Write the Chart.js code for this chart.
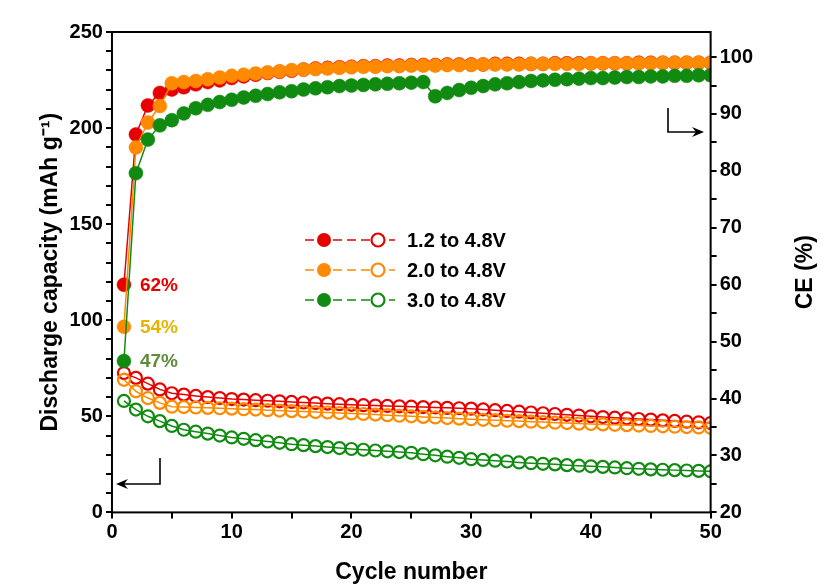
<!DOCTYPE html>
<html>
<head>
<meta charset="utf-8">
<script src="https://cdn.jsdelivr.net/npm/chart.js@4"></script>
<style>
  body { margin: 0; background: #fff; }
  #wrap { width: 821px; height: 586px; }
</style>
</head>
<body>
<div id="wrap"><canvas id="ceChart"></canvas></div>
<script>
"use strict";

// cycle numbers 1..50
const cycles = [];
for (let i = 1; i <= 50; i++) cycles.push(i);

const seriesNames = ["1.2 to 4.8V", "2.0 to 4.8V", "3.0 to 4.8V"];
const seriesColors = ["#e60000", "#ff8a00", "#118a11"];
const firstCE = ["62%", "54%", "47%"];
const firstCEColors = ["#e60000", "#e8b400", "#5e8c3c"];

// coulombic efficiency (%), right axis
const ceRed = [60, 86.4, 91.5, 93.7, 94.3, 94.7, 95.2, 95.6, 95.9, 96.3,
  96.6, 96.9, 97.2, 97.4, 97.6, 97.8, 98.0, 98.1, 98.2, 98.3,
  98.4, 98.4, 98.5, 98.5, 98.6, 98.6, 98.6, 98.7, 98.7, 98.7,
  98.7, 98.8, 98.8, 98.8, 98.8, 98.8, 98.9, 98.9, 98.9, 98.9,
  98.9, 98.9, 98.9, 99.0, 99.0, 99.0, 99.0, 99.0, 99.0, 99.0];
const ceOrange = [52.6, 84.1, 88.5, 91.4, 95.4, 95.6, 95.8, 96.1, 96.4, 96.7,
  96.9, 97.1, 97.3, 97.5, 97.7, 97.8, 97.9, 98.0, 98.1, 98.2,
  98.3, 98.3, 98.4, 98.4, 98.5, 98.5, 98.5, 98.6, 98.6, 98.6,
  98.7, 98.7, 98.7, 98.7, 98.8, 98.8, 98.8, 98.8, 98.8, 98.9,
  98.9, 98.9, 98.9, 98.9, 98.9, 99.0, 99.0, 99.0, 99.0, 99.0];
const ceGreen = [46.6, 79.6, 85.5, 88.0, 88.9, 90.1, 91.0, 91.6, 92.1, 92.5,
  92.9, 93.2, 93.5, 93.8, 94.0, 94.3, 94.5, 94.7, 94.9, 95.0,
  95.1, 95.2, 95.3, 95.4, 95.5, 95.6, 93.1, 93.7, 94.2, 94.6,
  94.9, 95.2, 95.4, 95.6, 95.8, 95.9, 96.0, 96.1, 96.2, 96.3,
  96.3, 96.4, 96.5, 96.5, 96.6, 96.6, 96.7, 96.7, 96.8, 96.8];

// discharge capacity (mAh/g), left axis
const capRed = [72.5, 70, 67, 64, 62, 61.3, 60.6, 60, 59.5, 59,
  58.7, 58.4, 58.1, 57.8, 57.5, 57.2, 56.9, 56.6, 56.3, 56,
  55.8, 55.6, 55.4, 55.2, 55, 54.8, 54.6, 54.4, 54.2, 54,
  53.6, 53.2, 52.8, 52.4, 52, 51.6, 51.2, 50.8, 50.4, 50,
  49.6, 49.3, 49, 48.6, 48.3, 47.9, 47.6, 47.2, 46.9, 46.5];
const capOrange = [69, 63, 59.5, 57, 55, 54.8, 54.6, 54.4, 54.2, 54,
  53.7, 53.5, 53.2, 53, 52.7, 52.5, 52.2, 52, 51.7, 51.5,
  51.2, 50.9, 50.6, 50.3, 50, 49.7, 49.4, 49.1, 48.8, 48.5,
  48.2, 48, 47.7, 47.5, 47.2, 47, 46.7, 46.5, 46.2, 46,
  45.8, 45.6, 45.4, 45.2, 45, 44.8, 44.6, 44.4, 44.2, 44];
const capGreen = [58, 53.5, 50, 47.5, 45, 43, 42, 41, 40, 39,
  38.3, 37.6, 36.9, 36.2, 35.5, 35, 34.5, 34, 33.5, 33,
  32.6, 32.2, 31.8, 31.4, 31, 30.3, 29.7, 29, 28.4, 27.7,
  27.3, 26.9, 26.5, 26, 25.6, 25.3, 25, 24.6, 24.3, 24,
  23.7, 23.4, 23, 22.7, 22.4, 22.2, 22, 21.8, 21.6, 21.4];

const ceSeries = [ceRed, ceOrange, ceGreen];
const capSeries = [capRed, capOrange, capGreen];

const FONT = "'Liberation Sans', Arial, sans-serif";

function pts(vals) {
  return vals.map((v, i) => ({ x: cycles[i], y: v }));
}

const datasets = [];
for (let s = 0; s < 3; s++) {
  datasets.push({
    label: seriesNames[s] + " CE",
    data: pts(ceSeries[s]),
    yAxisID: "yR",
    borderColor: seriesColors[s],
    backgroundColor: seriesColors[s],
    borderWidth: 1.5,
    pointRadius: 7,
    pointBorderWidth: 0.5,
    pointBorderColor: seriesColors[s],
    order: 3 - s
  });
  datasets.push({
    label: seriesNames[s] + " capacity",
    data: pts(capSeries[s]),
    yAxisID: "yL",
    borderColor: seriesColors[s],
    backgroundColor: "rgba(255,255,255,0)",
    borderWidth: 1.5,
    pointRadius: 6,
    pointBorderWidth: 2.2,
    pointBackgroundColor: "rgba(255,255,255,0)",
    order: 6 - s
  });
}

function arrowHead(ctx, x, y, dir) {
  ctx.beginPath();
  ctx.moveTo(x, y);
  ctx.lineTo(x - dir * 12, y - 5);
  ctx.lineTo(x - dir * 8, y);
  ctx.lineTo(x - dir * 12, y + 5);
  ctx.closePath();
  ctx.fill();
}

// frame, legend, labels, arrows and the right-hand title
const decor = {
  id: "decor",
  afterDraw(chart) {
    const ctx = chart.ctx;
    const a = chart.chartArea;
    const xs = chart.scales.x, yR = chart.scales.yR;
    ctx.save();
    ctx.strokeStyle = "#000";
    ctx.lineWidth = 2;
    ctx.strokeRect(a.left, a.top, a.right - a.left, a.bottom - a.top);

    // right axis title, read bottom to top
    ctx.fillStyle = "#000";
    ctx.font = "bold 23px " + FONT;
    ctx.textAlign = "center";
    ctx.textBaseline = "middle";
    ctx.translate(806, (a.top + a.bottom) / 2);
    ctx.rotate(-Math.PI / 2);
    ctx.fillText("CE (%)", 0, 0);
    ctx.setTransform(chart.currentDevicePixelRatio, 0, 0, chart.currentDevicePixelRatio, 0, 0);
    ctx.textAlign = "left";

    // first-cycle CE labels
    ctx.font = "bold 19px " + FONT;
    for (let s = 0; s < 3; s++) {
      ctx.fillStyle = firstCEColors[s];
      ctx.fillText(firstCE[s], xs.getPixelForValue(1) + 16, yR.getPixelForValue(ceSeries[s][0]) + 1);
    }

    // legend
    const lx = 305, ly = 240;
    for (let s = 0; s < 3; s++) {
      const y = ly + s * 30;
      ctx.strokeStyle = seriesColors[s];
      ctx.lineWidth = 1.6;
      ctx.setLineDash([9, 5]);
      ctx.beginPath();
      ctx.moveTo(lx, y);
      ctx.lineTo(lx + 90, y);
      ctx.stroke();
      ctx.setLineDash([]);
      ctx.fillStyle = seriesColors[s];
      ctx.beginPath();
      ctx.arc(lx + 19, y, 7, 0, Math.PI * 2);
      ctx.fill();
      ctx.fillStyle = "#fff";
      ctx.lineWidth = 2.2;
      ctx.beginPath();
      ctx.arc(lx + 73, y, 6.5, 0, Math.PI * 2);
      ctx.fill();
      ctx.stroke();
      ctx.fillStyle = "#000";
      ctx.font = "bold 20px " + FONT;
      ctx.fillText(seriesNames[s], lx + 102, y + 1);
    }

    // axis arrows
    ctx.strokeStyle = "#000";
    ctx.fillStyle = "#000";
    ctx.lineWidth = 1.6;
    ctx.beginPath();
    ctx.moveTo(160, 458);
    ctx.lineTo(160, 484);
    ctx.lineTo(122, 484);
    ctx.stroke();
    arrowHead(ctx, 116, 484, -1);
    ctx.beginPath();
    ctx.moveTo(668, 108);
    ctx.lineTo(668, 132);
    ctx.lineTo(698, 132);
    ctx.stroke();
    arrowHead(ctx, 704, 132, 1);
    ctx.restore();
  }
};

function keepTicks(max) {
  return function (axis) {
    axis.ticks = axis.ticks.filter(t => t.value <= max);
  };
}

const tickFont = { family: FONT, size: 20, weight: "bold" };
const titleFont = { family: FONT, size: 23, weight: "bold" };

new Chart(document.getElementById("ceChart"), {
  type: "line",
  data: { datasets: datasets },
  plugins: [decor],
  options: {
    responsive: true,
    maintainAspectRatio: false,
    animation: false,
    layout: { padding: { top: 32, right: 65, left: 35, bottom: 0 } },
    plugins: { legend: { display: false }, tooltip: { enabled: false } },
    scales: {
      x: {
        type: "linear",
        min: 0, max: 50,
        ticks: {
          stepSize: 5,
          font: tickFont,
          color: "#000",
          padding: 2,
          callback: v => (v % 10 === 0 ? v : "")
        },
        grid: { drawOnChartArea: false, tickLength: 6, color: "#000", lineWidth: 2 },
        border: { display: false },
        title: { display: true, text: "Cycle number", font: titleFont, color: "#000", padding: { top: 12, bottom: 0 } }
      },
      yL: {
        position: "left",
        min: 0, max: 250,
        afterBuildTicks: keepTicks(250),
        ticks: {
          stepSize: 10,
          autoSkip: false,
          font: tickFont,
          color: "#000",
          callback: v => (v % 50 === 0 ? v : "")
        },
        grid: { drawOnChartArea: false, tickLength: 6, color: "#000", lineWidth: 2 },
        border: { display: false },
        title: { display: true, text: "Discharge capacity (mAh g⁻¹)", font: titleFont, color: "#000", padding: 2 }
      },
      yR: {
        position: "right",
        min: 20, max: 104.4,
        afterBuildTicks: keepTicks(100),
        ticks: {
          stepSize: 5,
          autoSkip: false,
          font: tickFont,
          color: "#000",
          callback: v => (v % 10 === 0 ? v : "")
        },
        grid: { drawOnChartArea: false, tickLength: 6, color: "#000", lineWidth: 2 },
        border: { display: false }
      }
    }
  }
});
</script>
</body>
</html>
